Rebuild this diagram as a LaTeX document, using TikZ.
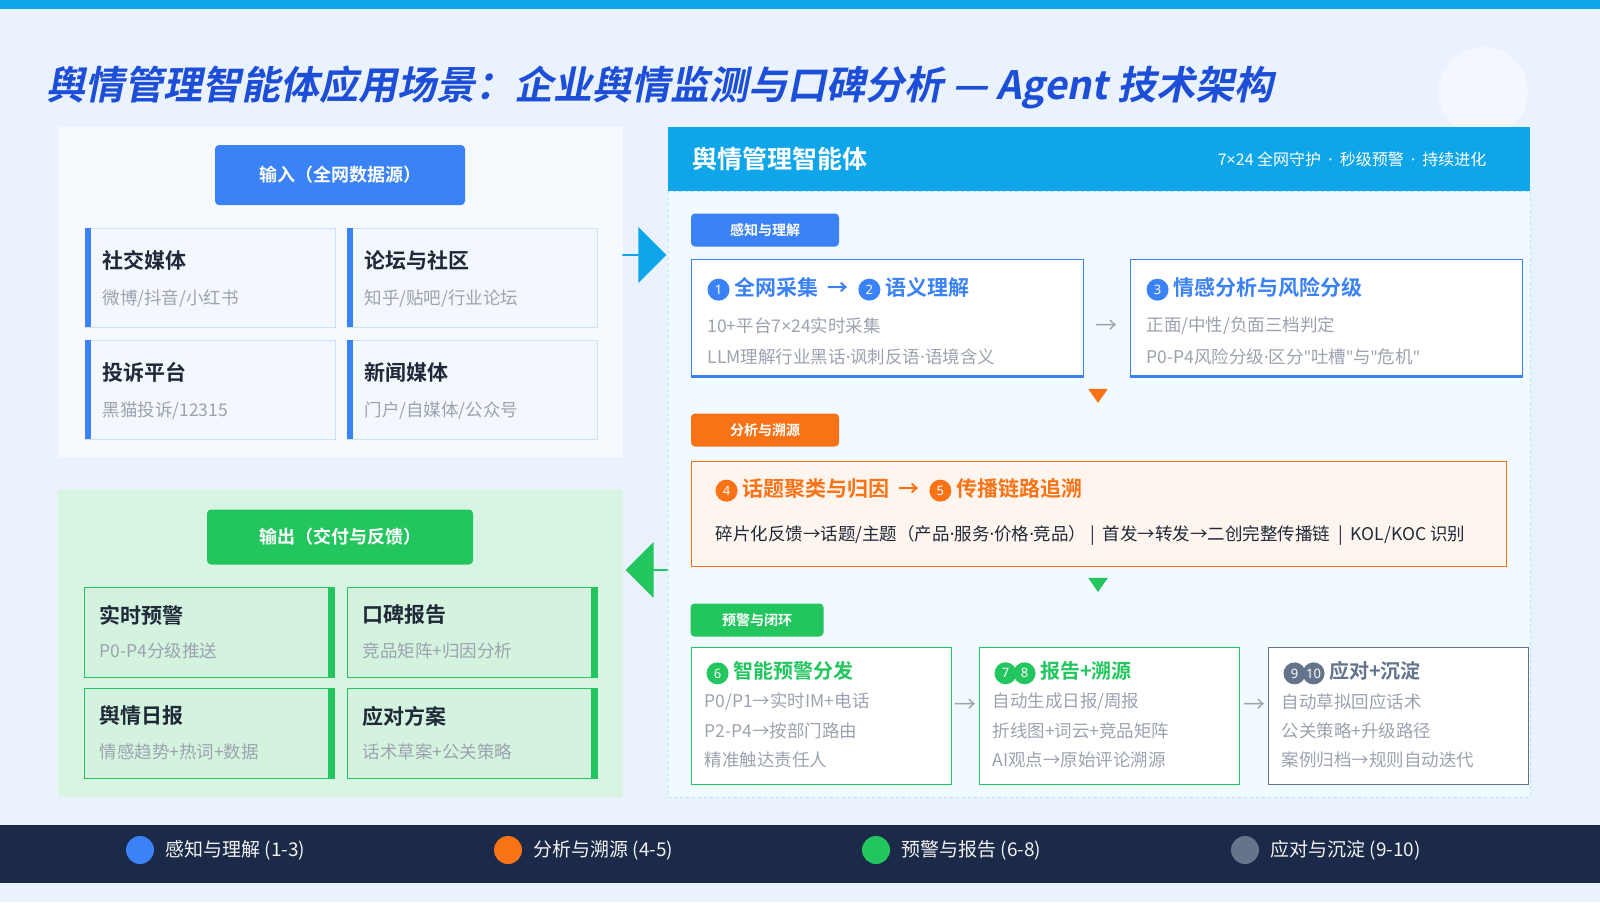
\documentclass[tikz,border=0pt]{standalone}
\usepackage{fontspec}
\setmainfont{Noto Sans CJK SC}[BoldFont={Noto Sans CJK SC Bold}]
\newfontfamily\ttlfont{Noto Sans CJK SC Bold}[FakeSlant=0.2]
\newfontfamily\lat{Noto Sans}
\newcommand{\md}{{\lat ·}}
\newcommand{\qt}{{\lat\symbol{34}}}
\usetikzlibrary{shapes.geometric,shapes.arrows}
\definecolor{bg}{HTML}{EAF2FD}
\definecolor{sky}{HTML}{0EA5E9}
\definecolor{blu}{HTML}{3B82F6}
\definecolor{dblu}{HTML}{1D4ED8}
\definecolor{org}{HTML}{F97316}
\definecolor{grn}{HTML}{22C55E}
\definecolor{gry}{HTML}{9CA3AF}
\definecolor{slt}{HTML}{64748B}
\definecolor{navy}{HTML}{1B2A48}
\definecolor{txt}{HTML}{1F2937}
\newcommand{\cnum}[2]{\tikz[baseline=-0.5ex]\node[circle,fill=#1,inner sep=0pt,minimum size=22pt,text=white,font=\lat\fontsize{13}{13}\selectfont]{#2};}
\begin{document}
\begin{tikzpicture}[x=1pt,y=-1pt,
 tag/.style={rounded corners=4pt,text=white,font=\bfseries\fontsize{14}{14}\selectfont},
 card/.style={fill=#1,draw=blu!25,line width=0.6pt},
 ctitle/.style={anchor=west,font=\bfseries\fontsize{21}{21}\selectfont,text=txt},
 csub/.style={anchor=west,font=\fontsize{17.5}{17.5}\selectfont,text=gry},
 line/.style={anchor=west,font=\fontsize{17.5}{17.5}\selectfont,text=gry},
 wbox/.style={fill=white,draw=#1,line width=1pt},
 harr/.style={font=\fontsize{22}{22}\selectfont,text=gry}]
\useasboundingbox (0,0) rectangle (1600,902);
\fill[bg] (0,0) rectangle (1600,902);
\fill[sky] (0,0) rectangle (1600,9);
\fill[white,opacity=0.5] (1483,92) circle (45);
\node[anchor=west,text=dblu,font=\ttlfont\fontsize{39}{39}\selectfont] (title) at (43,87) {舆情管理智能体应用场景：企业舆情监测与口碑分析 — Agent 技术架构};
% input panel
\fill[white,opacity=0.6] (58,127) rectangle (623,457);
\node[tag,fill=blu,minimum width=250pt,minimum height=60pt,font=\bfseries\fontsize{18}{18}\selectfont] (inbtn) at (340,175) {输入（全网数据源）};
\foreach \x/\y/\t/\s/\n in {85/228/社交媒体/微博\slash 抖音\slash 小红书/a,347/228/论坛与社区/知乎\slash 贴吧\slash 行业论坛/b,85/340/投诉平台/黑猫投诉\slash 12315/c,347/340/新闻媒体/门户\slash 自媒体\slash 公众号/d}{
 \draw[card=blu!6] (\x,\y) rectangle (\x+250,\y+99);
 \fill[blu] (\x,\y) rectangle (\x+6,\y+99);
 \node[ctitle] (in\n) at (\x+14,\y+32) {\t};
 \node[csub] (ins\n) at (\x+14,\y+71) {\s};
}
\node[fill=sky,single arrow,minimum height=44pt,minimum width=56pt,single arrow head extend=6pt,inner sep=0pt] (inarr) at (644,255) {};
% output panel
\fill[grn!18] (58,490) rectangle (623,797);
\node[tag,fill=grn,minimum width=266pt,minimum height=55pt,font=\bfseries\fontsize{18}{18}\selectfont] (outbtn) at (340,537) {输出（交付与反馈）};
\foreach \x/\y/\t/\s/\n in {84/587/实时预警/P0-P4分级推送/a,347/587/口碑报告/竞品矩阵+归因分析/b,84/688/舆情日报/情感趋势+热词+数据/c,347/688/应对方案/话术草案+公关策略/d}{
 \draw[fill=grn!20,draw=grn,line width=0.8pt] (\x,\y) rectangle (\x+250,\y+90);
 \fill[grn] (\x+244,\y) rectangle (\x+250,\y+90);
 \node[ctitle] (out\n) at (\x+12,\y+28) {\t};
 \node[csub] (outs\n) at (\x+12,\y+64) {\s};
}
\node[fill=grn,single arrow,shape border rotate=180,minimum height=42pt,minimum width=56pt,single arrow head extend=6pt,inner sep=0pt] (outarr) at (647,570) {};
% agent panel
\draw[fill=sky!6,draw=sky!30,dashed] (668,191) rectangle (1530,797);
\fill[sky] (668,127) rectangle (1530,191);
\node[anchor=west,text=white,font=\bfseries\fontsize{25}{25}\selectfont] (ag) at (689,159) {舆情管理智能体};
\node[anchor=east,text=white,font=\fontsize{16}{16}\selectfont] (agsub) at (1490,159) {7{\lat ×}24 全网守护 \ \md\ \ 秒级预警 \ \md\ \ 持续进化};
% stage 1
\node[tag,fill=blu,minimum width=148pt,minimum height=33pt] (t1) at (765,230) {感知与理解};
\draw[wbox=blu] (691,259) rectangle (1083,377);
\draw[blu,line width=2.5pt] (691,376) -- (1083,376);
\node[anchor=west,text=blu,font=\bfseries\fontsize{21}{21}\selectfont] (s12) at (704,289) {\cnum{blu}{1} 全网采集 \ → \ \cnum{blu}{2} 语义理解};
\node[line] (l1a) at (704,326) {10+平台7{\lat ×}24实时采集};
\node[line] (l1b) at (704,357) {LLM理解行业黑话\md 讽刺反语\md 语境含义};
\node[harr] (a1) at (1106,327) {→};
\draw[wbox=blu] (1130,259) rectangle (1522,377);
\draw[blu,line width=2.5pt] (1130,376) -- (1522,376);
\node[anchor=west,text=blu,font=\bfseries\fontsize{21}{21}\selectfont] (s3) at (1143,289) {\cnum{blu}{3} 情感分析与风险分级};
\node[line] (l3a) at (1143,326) {正面\slash 中性\slash 负面三档判定};
\node[line] (l3b) at (1143,357) {P0-P4风险分级\md 区分\qt 吐槽\qt 与\qt 危机\qt};
\node[fill=org,isosceles triangle,shape border rotate=-90,minimum width=16pt,minimum height=14pt,inner sep=0pt,isosceles triangle apex angle=70] (tri1) at (1098,394) {};
% stage 2
\node[tag,fill=org,minimum width=148pt,minimum height=33pt] (t2) at (765,430) {分析与溯源};
\draw[fill=org!7,draw=org,line width=1pt] (691,461) rectangle (1506,566);
\node[anchor=west,text=org,font=\bfseries\fontsize{21}{21}\selectfont] (s45) at (712,490) {\cnum{org}{4} 话题聚类与归因 \ → \ \cnum{org}{5} 传播链路追溯};
\node[anchor=west,text=txt,font=\fontsize{17.5}{17.5}\selectfont] (l45) at (712,535) {碎片化反馈→话题\slash 主题（产品\md 服务\md 价格\md 竞品） | \ 首发→转发→二创完整传播链 \ | \ KOL\slash KOC 识别};
\node[fill=grn,isosceles triangle,shape border rotate=-90,minimum width=16pt,minimum height=14pt,inner sep=0pt,isosceles triangle apex angle=70] (tri2) at (1098,583) {};
% stage 3
\node[tag,fill=grn,minimum width=133pt,minimum height=33pt] (t3) at (757,620) {预警与闭环};
\foreach \x/\c/\n in {691/grn/a,979/grn/b,1268/slt/c}{
 \draw[wbox=\c] (\x,647) rectangle (\x+260,784);
}
\node[anchor=west,text=grn,font=\bfseries\fontsize{20}{20}\selectfont] (s6) at (703,673) {\cnum{grn}{6} 智能预警分发};
\node[line] (l6a) at (701,702) {P0\slash P1→实时IM+电话};
\node[line] (l6b) at (701,731) {P2-P4→按部门路由};
\node[line] (l6c) at (701,760) {精准触达责任人};
\node[harr] (a2) at (965,706) {→};
\node[anchor=west,text=grn,font=\bfseries\fontsize{20}{20}\selectfont] (s78) at (991,673) {\cnum{grn}{7}\hspace{-3pt}\cnum{grn}{8} 报告+溯源};
\node[line] (l7a) at (989,702) {自动生成日报\slash 周报};
\node[line] (l7b) at (989,731) {折线图+词云+竞品矩阵};
\node[line] (l7c) at (989,760) {AI观点→原始评论溯源};
\node[harr] (a3) at (1254,706) {→};
\node[anchor=west,text=slt,font=\bfseries\fontsize{20}{20}\selectfont] (s910) at (1280,673) {\cnum{slt}{9}\hspace{-3pt}\cnum{slt}{10} 应对+沉淀};
\node[line] (l9a) at (1278,702) {自动草拟回应话术};
\node[line] (l9b) at (1278,731) {公关策略+升级路径};
\node[line] (l9c) at (1278,760) {案例归档→规则自动迭代};
% footer
\fill[navy] (0,825) rectangle (1600,883);
\foreach \x/\c/\t/\n in {140/blu/感知与理解 (1-3)/a,508/org/分析与溯源 (4-5)/b,876/grn/预警与报告 (6-8)/c,1245/slt/应对与沉淀 (9-10)/d}{
 \fill[\c] (\x,850) circle (14);
 \node[anchor=west,text=white!90!gray,font=\fontsize{19}{19}\selectfont] (lg\n) at (\x+22,850) {\t};
}
\end{tikzpicture}
\end{document}
